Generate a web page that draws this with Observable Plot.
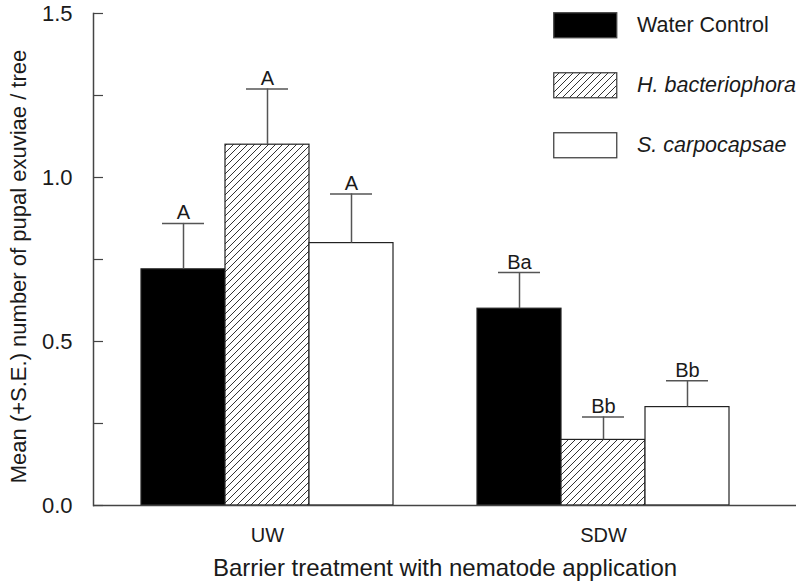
<!DOCTYPE html>
<html>
<head>
<meta charset="utf-8">
<script src="https://cdn.jsdelivr.net/npm/d3@7"></script>
<script src="https://cdn.jsdelivr.net/npm/@observablehq/plot@0.6"></script>
<style>
  html, body { margin: 0; padding: 0; background: white; overflow: hidden; }
  #wrap { position: relative; width: 796px; height: 585px; overflow: hidden; font-family: "Liberation Sans", Arial, sans-serif; }
  #legend { position: absolute; left: 553px; top: 12px; }
  .row { display: flex; align-items: center; height: 26px; margin-bottom: 34px; white-space: nowrap; }
  .row svg { display: block; margin-right: 19px; }
  .row span { font-size: 21.5px; color: #1a1a1a; }
</style>
</head>
<body>
<div id="wrap"><div id="legend"></div></div>
<script>
const groups = ["UW", "SDW"];
const series = ["Water Control", "H. bacteriophora", "S. carpocapsae"];
const seriesItalic = [false, true, true];
const fills = ["black", "url(#hatch)", "white"];
const meanUW = [0.72, 1.10, 0.80];
const meanSDW = [0.60, 0.20, 0.30];
const seUW = [0.14, 0.17, 0.15];
const seSDW = [0.11, 0.07, 0.08];
const lettersUW = ["A", "A", "A"];
const lettersSDW = ["Ba", "Bb", "Bb"];
const yTicks = [0, 0.25, 0.5, 0.75, 1.0, 1.25, 1.5];
const yLabeled = [0, 0.5, 1.0, 1.5];
const xTitle = "Barrier treatment with nematode application";
const yTitle = "Mean (+S.E.) number of pupal exuviae / tree";

const means = {UW: meanUW, SDW: meanSDW};
const ses = {UW: seUW, SDW: seSDW};
const letters = {UW: lettersUW, SDW: lettersSDW};

const data = groups.flatMap(g => series.map((s, i) => ({
  key: g + "|" + s, group: g, series: s,
  mean: means[g][i], top: means[g][i] + ses[g][i], letter: letters[g][i]
})));
const xDomain = [...series.map(s => "UW|" + s), "gap", ...series.map(s => "SDW|" + s)];
const xTickKeys = groups.map(g => g + "|" + series[1]);

const axisColor = "#444";
const errColor = "#555";

const chart = Plot.plot({
  width: 796, height: 585,
  marginLeft: 93, marginRight: 0, marginTop: 13, marginBottom: 80,
  style: {fontFamily: "'Liberation Sans', Arial, sans-serif", fontSize: "21px", color: "#1a1a1a", background: "white"},
  x: {domain: xDomain, paddingInner: 0, paddingOuter: 0.645, align: 0.417},
  y: {domain: [0, 1.5]},
  color: {type: "ordinal", domain: series, range: fills},
  marks: [
    Plot.barY(data, {x: "key", y: "mean", fill: "series", stroke: "#222", strokeWidth: 1.2}),
    Plot.ruleX(data, {x: "key", y1: "mean", y2: "top", stroke: errColor, strokeWidth: 1.5}),
    Plot.tickY(data, {x: "key", y: "top", inset: 21, stroke: errColor, strokeWidth: 1.5}),
    Plot.text(data, {x: "key", y: "top", text: "letter", lineAnchor: "bottom", dy: -4, fontSize: 20}),
    Plot.ruleY([0], {stroke: axisColor, strokeWidth: 1.5}),
    Plot.frame({anchor: "left", stroke: axisColor, strokeWidth: 1.5}),
    Plot.axisY({ticks: yTicks, tickSize: -10, tickPadding: 31, stroke: axisColor, strokeWidth: 1.2,
      tickFormat: d => yLabeled.includes(d) ? d.toFixed(1) : "", label: null, fontSize: 22}),
    Plot.axisX({ticks: xTickKeys, tickSize: 0, tickPadding: 22, tickFormat: k => k.split("|")[0], label: null, fontSize: 20}),
    Plot.text([xTitle], {frameAnchor: "bottom", dy: 70, fontSize: 24}),
    Plot.text([yTitle], {frameAnchor: "left", textAnchor: "middle", dx: -75, dy: 7, rotate: -90, fontSize: 22})
  ]
});

chart.insertAdjacentHTML("afterbegin",
  '<defs><pattern id="hatch" patternUnits="userSpaceOnUse" width="7" height="7">' +
  '<rect width="7" height="7" fill="white"/>' +
  '<path d="M-1,1 l2,-2 M0,7 l7,-7 M6,8 l2,-2" stroke="#333" stroke-width="1"/></pattern></defs>');

const wrap = document.getElementById("wrap");
wrap.insertBefore(chart, wrap.firstChild);

const legend = document.getElementById("legend");
series.forEach((s, i) => {
  const row = document.createElement("div");
  row.className = "row";
  row.innerHTML = `<svg width="65" height="27"><rect x="0.75" y="0.75" width="63" height="25" fill="${fills[i]}" stroke="#444" stroke-width="1.3"/></svg>` +
    `<span style="font-style:${seriesItalic[i] ? "italic" : "normal"}">${s}</span>`;
  legend.appendChild(row);
});
</script>
</body>
</html>
